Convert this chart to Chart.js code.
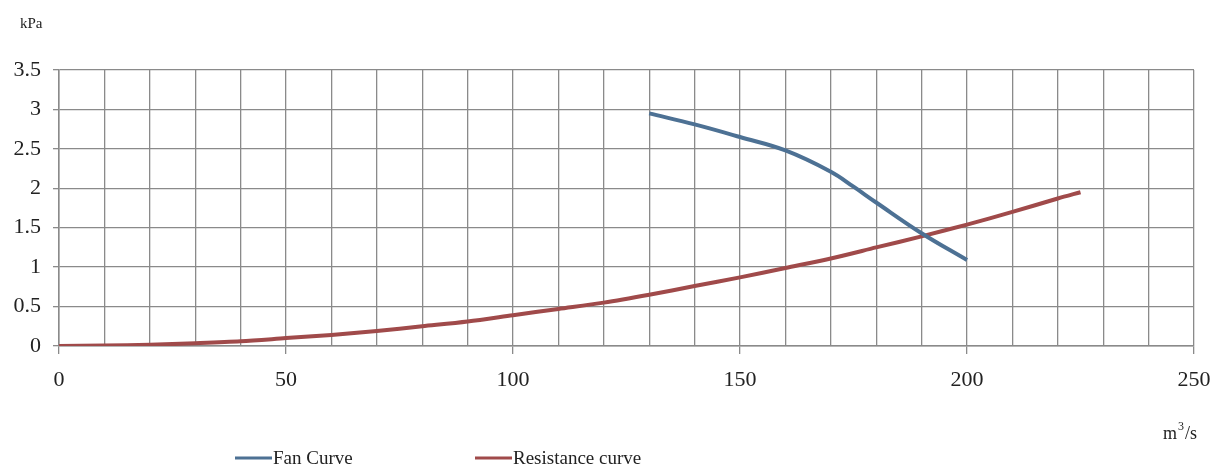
<!DOCTYPE html>
<html>
<head>
<meta charset="utf-8">
<script src="https://cdn.jsdelivr.net/npm/chart.js@4.4.0/dist/chart.umd.min.js"></script>
<style>
  html, body { margin: 0; padding: 0; background: #fff; }
  #wrap { position: relative; width: 1217px; height: 468px; }
</style>
</head>
<body>
<div id="wrap"><canvas id="grafico" width="1217" height="468"></canvas></div>
<script>
// data
const fanFlow = [130, 140, 150, 160, 170, 175, 180, 190, 200];
const fanPressure = [2.95, 2.81, 2.65, 2.48, 2.21, 2.02, 1.82, 1.43, 1.09];

const resFlow = [0, 10, 20, 30, 40, 50, 60, 70, 80, 90, 100, 110, 120, 130, 140, 150, 160, 170, 180, 190, 200, 210, 220, 225];
const resPressure = [0, 0.005, 0.015, 0.035, 0.06, 0.1, 0.14, 0.19, 0.25, 0.31, 0.39, 0.47, 0.55, 0.65, 0.76, 0.87, 0.99, 1.11, 1.25, 1.39, 1.54, 1.70, 1.87, 1.95];

const xLabelEvery = 50;
const seriesNames = ["Fan Curve", "Resistance curve"];
const FONT = "'Liberation Serif', 'Times New Roman', serif";
const GRID = "#8a8a8a";

const toPts = (xs, ys) => xs.map((x, i) => ({ x: x, y: ys[i] }));

// units + legend drawn by hand
const extras = {
  id: "extras",
  afterDraw(chart) {
    const c = chart.ctx;
    c.save();
    c.fillStyle = "#222";
    c.font = "15px " + FONT;
    c.textBaseline = "alphabetic";
    c.fillText("kPa", 20, 28);

    c.font = "18px " + FONT;
    c.fillText("m", 1163, 439);
    c.font = "12px " + FONT;
    c.fillText("3", 1178, 430);
    c.font = "18px " + FONT;
    c.fillText("/s", 1185, 439);

    const legX = [235, 475];
    chart.data.datasets.forEach((ds, i) => {
      const x = legX[i];
      c.strokeStyle = ds.borderColor;
      c.lineWidth = 3;
      c.beginPath();
      c.moveTo(x, 458);
      c.lineTo(x + 37, 458);
      c.stroke();
      c.fillStyle = "#222";
      c.font = "19px " + FONT;
      c.fillText(ds.label, x + 38, 464);
    });
    c.restore();
  }
};

const chart = new Chart(document.getElementById("grafico").getContext("2d"), {
  type: "line",
  data: {
    datasets: [{
      label: seriesNames[0],
      data: toPts(fanFlow, fanPressure),
      borderColor: "#4d7194",
      borderWidth: 4,
      pointRadius: 0,
      fill: false,
      tension: 0.4
    }, {
      label: seriesNames[1],
      data: toPts(resFlow, resPressure),
      borderColor: "#a04a4a",
      borderWidth: 4,
      pointRadius: 0,
      fill: false,
      tension: 0.3
    }]
  },
  options: {
    responsive: false,
    animation: false,
    layout: { padding: { top: 70, right: 23, left: 0, bottom: 0 } },
    plugins: { legend: { display: false }, tooltip: { enabled: false } },
    scales: {
      x: {
        type: "linear",
        min: 0,
        max: 250,
        ticks: {
          stepSize: 10,
          autoSkip: false,
          maxRotation: 0,
          padding: 13,
          color: "#222",
          font: { family: FONT, size: 22 },
          callback: v => (v % xLabelEvery === 0 ? v : "")
        },
        grid: {
          color: GRID,
          lineWidth: 1.3,
          tickLength: 8,
          tickColor: ctx => (ctx.tick && ctx.tick.value % xLabelEvery === 0 ? GRID : "rgba(0,0,0,0)")
        },
        border: { color: GRID, width: 1.5 },
        afterFit: s => { s.height = 468 - 346; s.paddingRight = 0; s.paddingLeft = 0; }
      },
      y: {
        min: 0,
        max: 3.5,
        ticks: {
          stepSize: 0.5,
          padding: 12,
          color: "#222",
          font: { family: FONT, size: 22 },
          callback: v => String(v)
        },
        grid: { color: GRID, lineWidth: 1.3, tickLength: 6 },
        border: { color: GRID, width: 1.5 },
        afterFit: s => { s.width = 59; }
      }
    }
  },
  plugins: [extras]
});
</script>
</body>
</html>
